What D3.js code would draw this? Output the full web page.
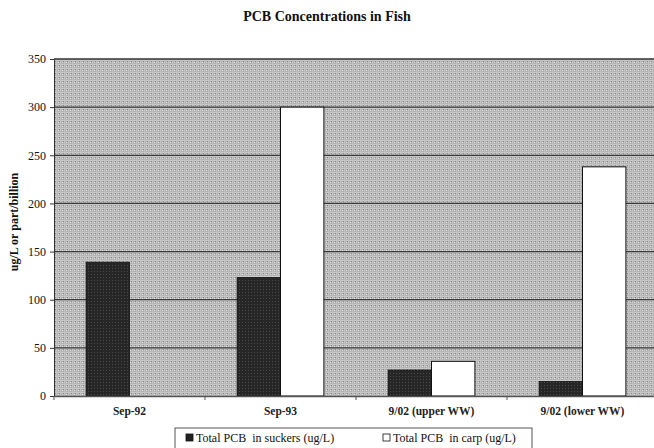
<!DOCTYPE html>
<html><head><meta charset="utf-8">
<script src="https://cdn.jsdelivr.net/npm/d3@7"></script>
<style>body{margin:0;background:#fff}svg{display:block}text{font-family:"Liberation Serif","Times New Roman",serif;white-space:pre}</style>
</head><body>
<svg id="c" width="654" height="448"></svg>
<script>
const categories = ["Sep-92", "Sep-93", "9/02 (upper WW)", "9/02 (lower WW)"];
const seriesNames = ["Total PCB  in suckers (ug/L)", "Total PCB  in carp (ug/L)"];
const suckers = [139, 123, 27, 15];
const carp = [0, 300, 36, 238];
const yTicks = [0, 50, 100, 150, 200, 250, 300, 350];

const svg = d3.select("#c");
const m = {l:54, r:658, t:59, b:396};
const defs = svg.append("defs");
const pg = defs.append("pattern").attr("id","bgpat").attr("width",4).attr("height",4).attr("patternUnits","userSpaceOnUse");
pg.append("rect").attr("width",4).attr("height",4).attr("fill","#b0b0b0");
pg.append("rect").attr("x",0).attr("y",0).attr("width",4).attr("height",1).attr("fill","#c8c8c8");
pg.append("rect").attr("x",0).attr("y",0).attr("width",1).attr("height",4).attr("fill","#c4c4c4");
pg.append("rect").attr("x",2).attr("y",2).attr("width",1).attr("height",1).attr("fill","#e6e6e6");
pg.append("rect").attr("x",3).attr("y",1).attr("width",1).attr("height",1).attr("fill","#8c8c8c");
const pd = defs.append("pattern").attr("id","darkpat").attr("width",3).attr("height",3).attr("patternUnits","userSpaceOnUse");
pd.append("rect").attr("width",3).attr("height",3).attr("fill","#262626");
pd.append("rect").attr("x",1).attr("y",1).attr("width",1).attr("height",1).attr("fill","#4a4a4a");

const y = d3.scaleLinear().domain([0,350]).range([m.b, m.t]);
const x0 = d3.scaleBand().domain(categories).range([m.l, m.r]).padding(0);
const x1 = d3.scaleBand().domain([0,1]).range([0, x0.bandwidth()]).paddingInner(0).paddingOuter(0.74);

svg.append("rect").attr("x",m.l).attr("y",m.t).attr("width",m.r-m.l).attr("height",m.b-m.t).attr("fill","url(#bgpat)");

svg.append("g").selectAll("line").data(yTicks.filter(d=>d>0)).join("line")
  .attr("x1",m.l).attr("x2",m.r).attr("y1",d=>y(d)).attr("y2",d=>y(d))
  .attr("stroke","#3a3a3a").attr("stroke-width",1.2);

const g = svg.append("g").selectAll("g").data(categories).join("g")
  .attr("transform",d=>`translate(${x0(d)},0)`);
g.append("rect").attr("x",x1(0)).attr("width",x1.bandwidth())
  .attr("y",(d,i)=>y(suckers[i])).attr("height",(d,i)=>y(0)-y(suckers[i]))
  .attr("fill","url(#darkpat)").attr("stroke","#111").attr("stroke-width",0.8);
g.filter((d,i)=>carp[i]>0).append("rect").attr("x",x1(1)).attr("width",x1.bandwidth())
  .attr("y",d=>y(carp[categories.indexOf(d)])).attr("height",d=>y(0)-y(carp[categories.indexOf(d)]))
  .attr("fill","#fff").attr("stroke","#111").attr("stroke-width",1);

const ya = svg.append("g").attr("transform",`translate(${m.l},0)`)
  .call(d3.axisLeft(y).tickValues(yTicks).tickSize(4).tickPadding(4));
ya.selectAll("text").attr("font-size",12).attr("fill","#111").style("font-family","Liberation Serif");
ya.select(".domain").attr("stroke","#333");
ya.selectAll(".tick line").attr("stroke","#333");

const xa = svg.append("g").attr("transform",`translate(0,${m.b})`)
  .call(d3.axisBottom(x0).tickSize(0).tickPadding(11));
xa.select(".domain").attr("stroke","#555").attr("stroke-width",1.5);
xa.selectAll("text").attr("font-size",11.5).attr("font-weight","bold").attr("fill","#222").style("font-family","Liberation Serif");
svg.append("g").selectAll("line").data(categories).join("line")
  .attr("x1",d=>x0(d)).attr("x2",d=>x0(d)).attr("y1",m.b).attr("y2",m.b+4).attr("stroke","#555");

svg.append("line").attr("x1",m.l).attr("x2",m.r).attr("y1",m.t).attr("y2",m.t).attr("stroke","#333").attr("stroke-width",1);

svg.append("text").attr("x",327).attr("y",21).attr("text-anchor","middle")
  .attr("font-size",14).attr("font-weight","bold").attr("fill","#111").text("PCB Concentrations in Fish");
svg.append("text").attr("transform","translate(18,222) rotate(-90)").attr("text-anchor","middle")
  .attr("font-size",12).attr("font-weight","bold").attr("fill","#111").text("ug/L or part/billion");

const lg = svg.append("g");
lg.append("rect").attr("x",175).attr("y",428).attr("width",357).attr("height",24).attr("fill","#fff").attr("stroke","#555");
const lx = [186, 383];
seriesNames.forEach((s,i)=>{
  lg.append("rect").attr("x",lx[i]).attr("y",434).attr("width",7).attr("height",7)
    .attr("fill",i===0?"#222":"#fff").attr("stroke","#111").attr("stroke-width",0.8);
  lg.append("text").attr("x",lx[i]+10).attr("y",441.5).attr("font-size",12).attr("fill","#111").text(s);
});
</script>
</body></html>
